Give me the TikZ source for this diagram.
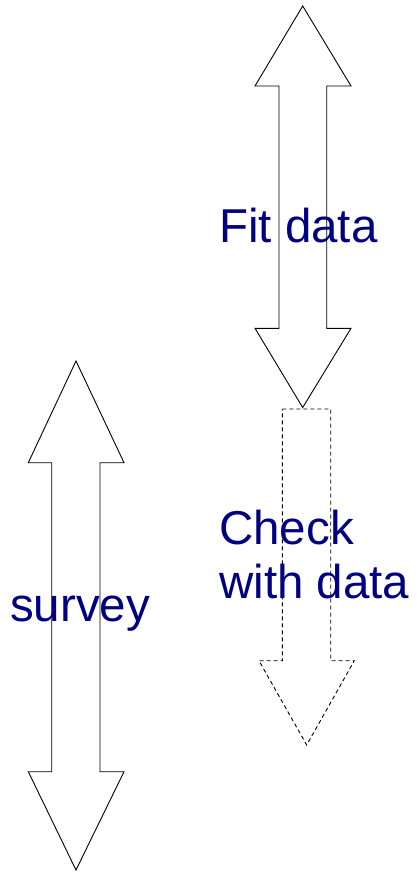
\documentclass[tikz,border=0pt]{standalone}
\usepackage{fontspec}
\setmainfont{Liberation Sans}
\definecolor{navytext}{RGB}{0,0,128}
\begin{document}
\begin{tikzpicture}[x=1pt,y=-1pt,
  arrowshape/.style={draw=black,line width=0.9pt,line join=miter},
  dasharrow/.style={arrowshape,dash pattern=on 4pt off 3pt},
  label/.style={text=navytext,font=\fontsize{47.5}{53.5}\selectfont,inner sep=0pt}]
\useasboundingbox (0,0) rectangle (416,888);
% Fit data double arrow
\draw[arrowshape] (302.7,6) -- (351,86) -- (326.7,86) -- (326.7,328.3) -- (351,328.3)
  -- (302.7,407.5) -- (255,328.3) -- (279,328.3) -- (279,86) -- (255,86) -- cycle;
% Check with data dashed arrow
\draw[dasharrow] (282.3,409) -- (330.7,409) -- (330.7,660.7) -- (354.3,660.7)
  -- (306.7,745) -- (259,660.7) -- (282.3,660.7) -- cycle;
% survey double arrow
\draw[arrowshape] (76,361) -- (124,462.7) -- (100,462.7) -- (100,771.7) -- (124,771.7)
  -- (76,870) -- (28.3,771.7) -- (51.7,771.7) -- (51.7,462.7) -- (28.3,462.7) -- cycle;
\node[label,anchor=base west] (fit) at (219,242) {Fit data};
\node[label,anchor=north west,align=left] (check) at (219,510) {Check\\with data};
\node[label,anchor=base west] (survey) at (10,621) {survey};
\end{tikzpicture}
\end{document}
